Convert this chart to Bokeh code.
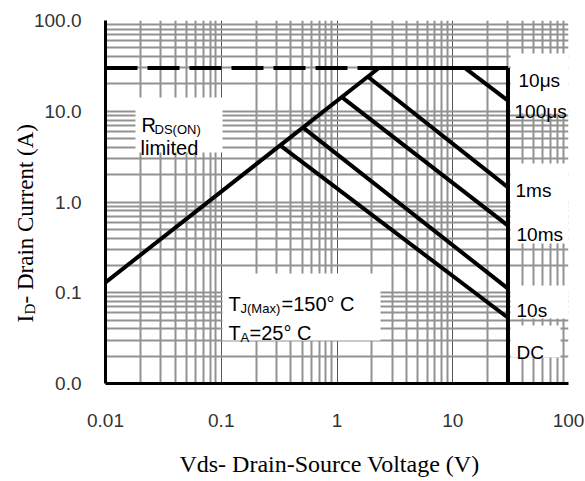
import math
from bokeh.plotting import figure
from bokeh.models import FixedTicker, Label
from bokeh.embed import file_html
from bokeh.resources import INLINE

# ---------------- data ----------------
x_ticks = [0.01, 0.1, 1, 10, 100]
x_tick_labels = ["0.01", "0.1", "1", "10", "100"]
y_ticks = [0.01, 0.1, 1, 10, 100]
y_tick_labels = ["0.0", "0.1", "1.0", "10.0", "100.0"]

# RDS(ON) limit line
rds_v = [0.01, 2.3]
rds_i = [0.13, 30]
# Max current limit (dashed then solid)
imax_dash_v = [0.01, 2.3]
imax_dash_i = [30, 30]
imax_solid_v = [2.3, 30]
imax_solid_i = [30, 30]
# Max voltage limit (DC vertical)
vmax_v = [30, 30]
vmax_i = [30, 0.01]
# pulse-width limit lines
pulse_10us_v = [12.7, 30]
pulse_10us_i = [30, 13.1]
pulse_100us_v = [1.85, 30]
pulse_100us_i = [24, 1.45]
pulse_1ms_v = [1.10, 30]
pulse_1ms_i = [14.3, 0.55]
pulse_10ms_v = [0.51, 30]
pulse_10ms_i = [6.6, 0.111]
pulse_10s_v = [0.323, 30]
pulse_10s_i = [4.2, 0.053]

curve_labels = ["10\u03bcs", "100\u03bcs", "1ms", "10ms", "10s", "DC"]

# ---------------- layout constants ----------------
XMIN, XMAX, YMIN, YMAX = 0.01, 100, 0.01, 100
FL, FT, FR, FB = 105, 20, 568, 383  # frame edges in page pixels
W, H = 585, 481
SANS = "Liberation Sans"
SERIF = "Liberation Serif"


def px2x(px):
    return 10 ** (math.log10(XMIN) + (px - FL) / (FR - FL) * (math.log10(XMAX) - math.log10(XMIN)))


def py2y(py):
    return 10 ** (math.log10(YMAX) - (py - FT) / (FB - FT) * (math.log10(YMAX) - math.log10(YMIN)))


p = figure(width=W, height=H, x_axis_type="log", y_axis_type="log",
           x_range=(XMIN, XMAX), y_range=(YMIN, YMAX),
           output_backend="svg", toolbar_location=None,
           min_border_left=FL, min_border_right=W - FR, min_border_top=FT, min_border_bottom=H - FB)
p.outline_line_color = None
p.background_fill_color = "white"
p.border_fill_color = "white"

minor = [m * 10 ** e for e in range(-2, 2) for m in range(2, 10)]
xt = FixedTicker(ticks=x_ticks, minor_ticks=minor)
yt = FixedTicker(ticks=y_ticks, minor_ticks=minor)
p.xaxis.ticker = xt
p.yaxis.ticker = yt
p.xgrid.ticker = xt
p.ygrid.ticker = yt
p.xaxis.major_label_overrides = dict(zip(x_ticks, x_tick_labels))
p.yaxis.major_label_overrides = dict(zip(y_ticks, y_tick_labels))

for ax in (p.xaxis, p.yaxis):
    ax.axis_line_width = 3
    ax.axis_line_color = "black"
    ax.major_tick_line_color = None
    ax.minor_tick_line_color = None
    ax.major_label_text_font = SANS
    ax.major_label_text_font_size = "19px"
    ax.major_label_text_color = "#333333"
p.xaxis.major_label_standoff = 24
p.yaxis.major_label_standoff = 18

p.xgrid.grid_line_color = "#555555"
p.xgrid.grid_line_width = 1
p.xgrid.minor_grid_line_color = "#929292"
p.xgrid.minor_grid_line_width = 2
p.ygrid.grid_line_color = "#929292"
p.ygrid.grid_line_width = 2
p.ygrid.minor_grid_line_color = "#929292"
p.ygrid.minor_grid_line_width = 2

# white label boxes (page pixel rectangles)
boxes = [(135, 222, 97, 152), (222, 380, 273, 340),
         (510, 568, 53, 113), (510, 568, 163, 243),
         (510, 568, 285, 318), (510, 560, 325, 357)]
p.quad(left=[px2x(b[0]) for b in boxes], right=[px2x(b[1]) for b in boxes],
       top=[py2y(b[2]) for b in boxes], bottom=[py2y(b[3]) for b in boxes],
       fill_color="white", line_color=None)

LW = 4
p.line(imax_dash_v, imax_dash_i, line_width=LW, color="black", line_dash="32 10")
p.line(imax_solid_v, imax_solid_i, line_width=LW, color="black")
p.line(rds_v, rds_i, line_width=LW, color="black")
p.line(vmax_v, vmax_i, line_width=LW, color="black")
for v, i in [(pulse_10us_v, pulse_10us_i), (pulse_100us_v, pulse_100us_i),
             (pulse_1ms_v, pulse_1ms_i), (pulse_10ms_v, pulse_10ms_i),
             (pulse_10s_v, pulse_10s_i)]:
    p.line(v, i, line_width=LW, color="black")


def lab(text, px, py, size, font=SANS, align="left", angle=0.0, color="black", place="center"):
    p.add_layout(Label(x=XMIN, y=YMAX, x_offset=px - FL, y_offset=-(py - FT), text=text,
                       text_font=font, text_font_size=f"{size}px", text_color=color,
                       text_align=align, text_baseline="alphabetic", angle=angle), place)


# curve labels (inside the frame)
label_pos = [(518, 80), (514, 111), (515, 190), (516, 234), (516, 310), (516, 352)]
for t, (px, py) in zip(curve_labels, label_pos):
    lab(t, px, py, 19)

# RDS(ON) limited
lab("R", 141, 124, 20)
lab("DS(ON)", 154, 129, 13)
lab("limited", 140, 147, 20)

# TJ / TA
lab("T", 228, 303, 20)
lab("J(Max)", 240, 308, 13)
lab("=150\u00b0 C", 281, 303, 20)
lab("T", 228, 332, 20)
lab("A", 240, 337, 13)
lab("=25\u00b0 C", 249, 332, 20)

# x axis title (below panel)
lab("Vds- Drain-Source Voltage (V)", 329, 463, 24, font=SERIF, align="center", place="below")

# y axis title with subscript: small pieces in the below panel, long piece in the left panel
ang = math.pi / 2
lab("I", 25, 322, 23, font=SERIF, angle=ang, place="below")
lab("D", 29, 314, 15, font=SERIF, angle=ang, place="below")
lab("- Drain Current (A)", 25, 303, 23, font=SERIF, angle=ang, place="left")

open("out.html", "w").write(file_html(p, INLINE))
